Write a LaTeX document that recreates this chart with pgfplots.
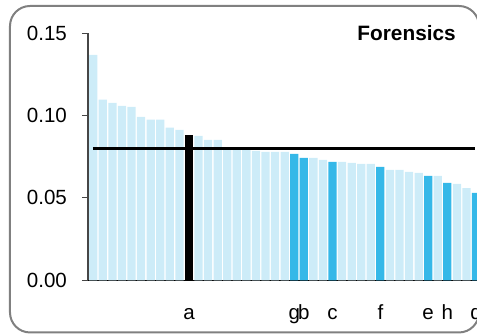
\documentclass[border=0pt]{standalone}
\usepackage{pgfplots}
\pgfplotsset{compat=1.18}
\usepackage{fontspec}
\setmainfont{Liberation Sans}
\definecolor{lightbar}{RGB}{205,236,248}
\definecolor{darkbar}{RGB}{53,184,232}
\definecolor{framegray}{RGB}{128,128,128}
\definecolor{axisgray}{RGB}{70,70,70}

% light bars (index, value)
\pgfplotstableread{
x y
0 0.1369
1 0.1097
2 0.1077
3 0.1059
4 0.1053
5 0.0992
6 0.0976
7 0.0976
8 0.0927
9 0.0913
11 0.0877
12 0.0853
13 0.0853
14 0.0800
15 0.0800
16 0.0791
17 0.0785
18 0.0780
19 0.0780
20 0.0780
23 0.0743
24 0.0731
26 0.0719
27 0.0713
28 0.0707
29 0.0707
31 0.0670
32 0.0670
33 0.0658
34 0.0652
36 0.0634
38 0.0585
39 0.0560
}\lightdata
% highlighted bars
\pgfplotstableread{
x y
21 0.0767
22 0.0743
25 0.0719
30 0.0688
35 0.0634
37 0.0591
40 0.0530
}\darkdata

\begin{document}
\fontsize{15.4pt}{18pt}\selectfont
\begin{tikzpicture}
\begin{axis}[
  width=291.75pt, height=185.25pt, scale only axis,
  xmin=-0.55, xmax=40.1, ymin=0, ymax=0.15,
  clip mode=individual,
  ybar, bar width=6.2pt, bar shift=0pt,
  axis x line*=bottom, axis y line*=left,
  x axis line style={black, line width=0.8pt},
  y axis line style={axisgray, line width=0.8pt},
  ytick={0,0.05,0.1,0.15}, yticklabels={0.00,0.05,0.10,0.15},
  xtick={10,21,22,25,30,35,37,40}, xticklabels={a,g,b,c,f,e,h,d},
  tick align=outside, major tick length=4.5pt,
  ytick style={axisgray, line width=0.8pt},
  xtick style={draw=none},
  tick label style={font=\fontsize{15.4pt}{18pt}\selectfont},
  xticklabel style={anchor=base, yshift=-25.3pt},
  yticklabel style={anchor=east, xshift=-6pt},
]
\addplot[fill=lightbar, draw=none] table[x=x, y=y] {\lightdata};
\addplot[fill=darkbar, draw=none] table[x=x, y=y] {\darkdata};
\addplot[fill=black, draw=none] coordinates {(10,0.0884)};
\addplot[sharp plot, black, line width=2pt, no marks] coordinates {(-0.03,0.08) (39.9,0.08)};
\node[anchor=base east, inner sep=0pt, font=\fontsize{15.6pt}{18pt}\selectfont\bfseries] at (rel axis cs:0.946,0.969) {Forensics};
\end{axis}
\pgfresetboundingbox
\useasboundingbox (-66pt,-40.3pt) rectangle (291.75pt,210.2pt);
\draw[framegray, line width=1.5pt, rounded corners=15pt] (-58.5pt,-39.15pt) rectangle (293.25pt,205.7pt);
\end{tikzpicture}
\end{document}
